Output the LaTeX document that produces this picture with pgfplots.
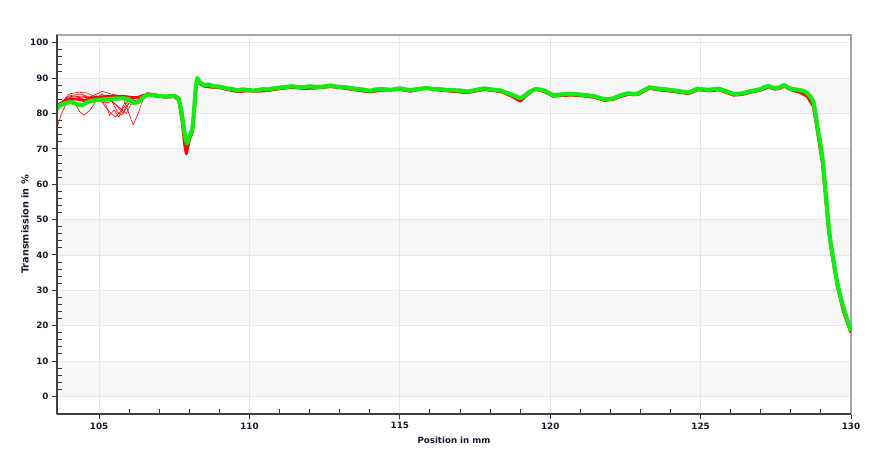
\documentclass[border=0pt]{standalone}
\usepackage{pgfplots}
\pgfplotsset{compat=1.18}
\usepackage{pgfplotstable}
\usepackage{fontspec}
\setmainfont{DejaVu Sans}[BoldFont={DejaVu Sans Bold}]
\definecolor{band}{RGB}{247,247,247}
\definecolor{gridc}{RGB}{232,232,232}
\definecolor{txt}{RGB}{25,25,45}
\definecolor{grn}{RGB}{20,235,20}
\definecolor{rd}{RGB}{240,10,10}

\pgfplotstableread{
x y
103.6 81.5
103.75 82.5
103.9 83.0
104.1 83.2
104.3 82.5
104.45 82.4
104.65 83.4
104.9 83.8
105.2 84.0
105.5 84.2
105.8 84.3
106.0 84.0
106.15 83.0
106.3 83.2
106.45 84.5
106.6 85.4
106.9 85.0
107.2 84.8
107.5 85.0
107.65 84.2
107.75 80.0
107.85 74.0
107.92 71.5
108.0 73.5
108.1 75.5
108.15 80.0
108.22 88.0
108.27 90.0
108.35 88.8
108.5 88.0
108.65 88.2
108.8 87.7
109.0 87.6
109.15 87.3
109.3 87.0
109.45 86.9
109.6 86.5
109.75 86.8
109.9 86.7
110.1 86.5
110.3 86.6
110.45 86.9
110.6 86.8
110.8 87.1
111.0 87.3
111.2 87.5
111.4 87.7
111.6 87.5
111.8 87.4
112.0 87.7
112.2 87.5
112.45 87.6
112.7 87.9
112.9 87.6
113.1 87.5
113.3 87.3
113.5 87.0
113.75 86.8
114.0 86.4
114.2 86.8
114.4 86.9
114.7 86.7
115.0 87.1
115.2 86.8
115.35 86.6
115.6 86.9
115.9 87.2
116.1 86.9
116.3 86.9
116.5 86.7
116.7 86.6
117.0 86.5
117.25 86.2
117.5 86.6
117.8 87.1
118.05 86.8
118.35 86.5
118.5 86.0
118.7 85.4
118.85 84.9
119.0 84.3
119.15 85.0
119.25 85.8
119.4 86.5
119.5 86.9
119.65 86.8
119.8 86.5
119.95 85.8
120.1 85.2
120.25 85.3
120.4 85.4
120.55 85.6
120.7 85.5
120.95 85.4
121.2 85.2
121.35 85.0
121.5 84.8
121.65 84.4
121.8 84.0
121.95 84.1
122.1 84.3
122.3 85.0
122.45 85.4
122.6 85.7
122.75 85.5
122.9 85.6
123.1 86.5
123.3 87.4
123.45 87.2
123.6 87.0
123.8 86.9
124.0 86.6
124.15 86.5
124.3 86.3
124.45 86.1
124.6 85.9
124.75 86.5
124.9 87.0
125.1 86.8
125.3 86.7
125.45 86.9
125.6 87.0
125.85 86.3
126.1 85.5
126.25 85.6
126.4 85.7
126.55 86.1
126.7 86.4
126.85 86.6
127.0 86.9
127.1 87.4
127.25 87.8
127.35 87.4
127.45 87.2
127.6 87.3
127.7 87.8
127.78 88.0
127.9 87.4
128.0 87.0
128.15 86.8
128.3 86.6
128.45 86.3
128.55 85.7
128.65 84.8
128.75 83.3
128.82 80.0
128.9 75.3
129.0 70.5
129.07 66.0
129.17 56.5
129.27 47.0
129.33 43.0
129.4 39.5
129.48 35.0
129.57 31.0
129.67 27.5
129.77 24.5
129.9 21.0
130.0 18.5
}\greentab

\pgfplotstableread{
x y
106.45 84.3
106.6 85.6
106.9 85.2
107.2 84.6
107.5 84.8
107.65 83.8
107.75 78.5
107.85 71.0
107.9 68.6
108.0 72.5
108.1 74.8
108.15 79.0
108.22 87.5
108.27 89.6
108.35 88.4
108.5 87.7
108.8 87.4
109.0 87.3
109.3 86.7
109.6 86.2
109.9 86.4
110.3 86.3
110.6 86.5
111.0 87.0
111.4 87.4
111.8 87.1
112.2 87.2
112.7 87.6
113.1 87.2
113.5 86.7
114.0 86.1
114.4 86.6
115.0 86.8
115.35 86.3
115.9 87.2
116.3 86.6
116.7 86.3
117.25 85.9
117.8 86.8
118.35 86.2
118.7 85.0
119.0 83.5
119.25 85.4
119.5 86.9
119.8 86.2
120.1 84.9
120.4 85.1
120.7 85.2
121.2 84.9
121.5 84.5
121.8 83.7
122.1 84.0
122.3 84.7
122.6 85.4
122.9 85.3
123.3 87.1
123.6 86.7
124.0 86.3
124.3 86.0
124.6 85.6
124.9 86.7
125.3 86.4
125.6 86.7
126.1 85.2
126.4 85.4
126.7 86.1
127.0 86.6
127.25 87.5
127.45 86.9
127.6 87.0
127.78 87.7
128.0 86.7
128.3 86.0
128.55 84.8
128.75 82.0
128.9 74.0
129.05 66.0
129.15 56.5
129.25 47.0
129.38 39.5
129.55 31.0
129.75 24.0
129.9 20.3
130.0 18.0
}\redtab

\begin{document}
\begin{tikzpicture}
\begin{axis}[
  name=ax,
  set layers=standard,
  scale only axis,
  width=794bp, height=379bp,
  xmin=103.6, xmax=130, ymin=-5, ymax=102.2,
  xtick={105,110,115,120,125,130}, ytick={0,10,20,30,40,50,60,70,80,90,100},
  xticklabels={105,110,115,120,125,130},
  yticklabels={0,10,20,30,40,50,60,70,80,90,100},
  minor x tick num=4, minor y tick num=4,
  xtick pos=bottom, ytick pos=left,
  tick align=outside,
  major tick length=5bp, minor tick length=-5bp,
  every tick/.style={draw=black!80, line width=0.9bp},
  grid=major,
  major grid style={draw=gridc, line width=0.8bp},
  axis line style={draw=gray!70, line width=1.6bp},
  tick label style={font=\bfseries\fontsize{8.8}{10}\selectfont, text=txt},
  xlabel={\bfseries Position in mm},
  ylabel={\bfseries Transmission in \%},
  every axis x label/.style={at={(axis description cs:0.5,0)}, anchor=center, yshift=-26bp, font=\bfseries\fontsize{8.7}{10}\selectfont, text=txt},
  every axis y label/.style={at={(axis description cs:0,0.5)}, anchor=center, xshift=-32bp, rotate=90, font=\bfseries\fontsize{9.8}{11}\selectfont, text=txt},
]
\addplot[fill=band, draw=none, forget plot, on layer=axis background] coordinates {(103.6,0) (130,0) (130,10) (103.6,10)} -- cycle;
\addplot[fill=band, draw=none, forget plot, on layer=axis background] coordinates {(103.6,20) (130,20) (130,30) (103.6,30)} -- cycle;
\addplot[fill=band, draw=none, forget plot, on layer=axis background] coordinates {(103.6,40) (130,40) (130,50) (103.6,50)} -- cycle;
\addplot[fill=band, draw=none, forget plot, on layer=axis background] coordinates {(103.6,60) (130,60) (130,70) (103.6,70)} -- cycle;
\addplot[fill=band, draw=none, forget plot, on layer=axis background] coordinates {(103.6,80) (130,80) (130,90) (103.6,90)} -- cycle;

% red traces
\addplot[rd, line width=3.0bp, line join=round] table {\redtab};
\addplot[rd, line width=0.6bp] coordinates {(103.6,80.5) (103.8,83.5) (104.0,85.5) (104.3,86.0) (104.6,85.8) (104.8,85.0) (105.1,86.3) (105.4,85.5) (105.7,85.0) (106.0,84.8) (106.2,83.5) (106.5,85.5)};
\addplot[rd, line width=0.6bp] coordinates {(103.6,81) (103.9,84.5) (104.2,85) (104.5,84) (104.8,83.8) (105.1,85.5) (105.3,84.5) (105.6,82) (105.8,80) (106.0,83) (106.3,83) (106.5,85.5)};
\addplot[rd, line width=0.6bp] coordinates {(103.6,76) (103.75,80) (103.9,82.5) (104.2,84) (104.5,84.5) (104.8,84.6) (105.1,85) (105.4,84) (105.6,80.5) (105.75,79.5) (105.9,82) (106.1,84) (106.5,85.5)};
\addplot[rd, line width=0.6bp] coordinates {(103.6,81.5) (103.9,83.5) (104.2,83) (104.35,80.5) (104.5,79.5) (104.7,81) (104.9,83.5) (105.2,84.5) (105.5,84.5) (105.8,84.2) (106.1,84) (106.5,85.5)};
\addplot[rd, line width=0.6bp] coordinates {(103.6,82) (104,84) (104.5,84.8) (105,84) (105.3,83) (105.5,84) (105.8,84.5) (105.95,81) (106.13,76.8) (106.3,80) (106.5,85)};
\addplot[rd, line width=0.6bp] coordinates {(103.6,82) (104,85) (104.4,85.5) (104.8,84) (105.2,83) (105.35,79.5) (105.5,81) (105.65,79) (105.8,81.5) (106,84) (106.5,85.5)};
\addplot[rd, line width=0.6bp] coordinates {(103.6,81.5) (104,84.5) (104.5,85) (105.0,84.6) (105.2,82) (105.4,80) (105.55,79) (105.7,80.5) (105.85,83) (106.1,84) (106.5,85.5)};
\addplot[rd, line width=0.6bp] coordinates {(103.6,82.5) (104,84) (104.5,84) (104.9,85) (105.2,84.5) (105.5,83) (105.7,81.5) (105.9,80) (106.05,82.5) (106.3,83.5) (106.5,85.5)};
\addplot[rd, line width=2.4bp, line join=round] coordinates {(103.6,82.3) (103.9,83.9) (104.2,84.1) (104.5,83.6) (104.9,84.6) (105.3,84.9) (105.8,84.9) (106.1,84.6) (106.45,84.5)};

% green band
\addplot[grn, line width=4.2bp, line join=round] table {\greentab};
\end{axis}
\draw[black!75, line width=1.2bp] (ax.south west) -- (ax.north west);
\draw[black!75, line width=1.2bp] (ax.south west) -- (ax.south east);
\useasboundingbox ([xshift=-57bp,yshift=-50bp]ax.south west) rectangle ([xshift=31bp,yshift=35bp]ax.north east);
\end{tikzpicture}
\end{document}
